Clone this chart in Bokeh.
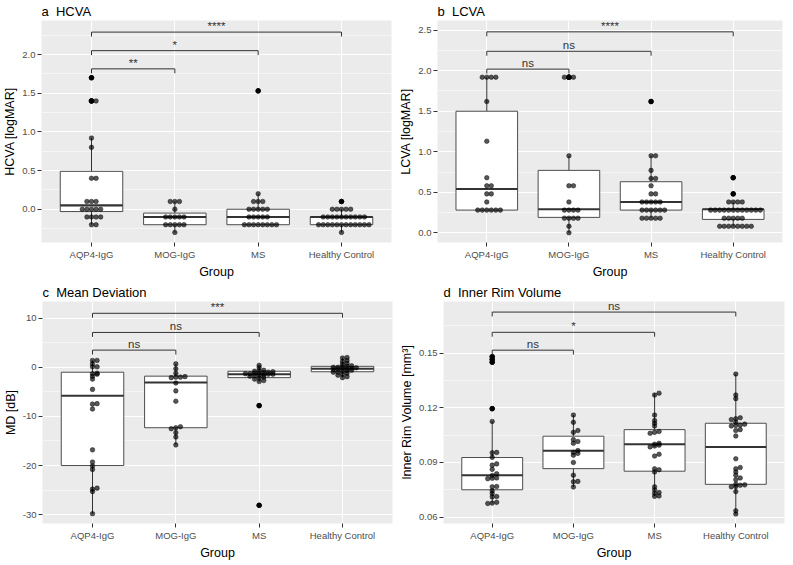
from bokeh.plotting import figure
from bokeh.models import Range1d, FixedTicker, NumeralTickFormatter
from bokeh.layouts import column, row
from bokeh.core.properties import value
from bokeh.embed import file_html
from bokeh.resources import INLINE

FONT = "Liberation Sans"

groups = ["AQP4-IgG", "MOG-IgG", "MS", "Healthy Control"]
group_x = [1, 2, 3, 4]
comparisons = [(1, 2), (1, 3), (1, 4)]

# ---------------- a  HCVA ----------------
hcva_aqp4 = [1.7, 1.4, 1.4, 0.92, 0.8, 0.4, 0.4, 0.1, 0.1, 0.1, 0.0, 0.0, 0.0, 0.0, 0.0,
             -0.1, -0.1, -0.1, -0.1, -0.2, -0.2]
hcva_mog = [0.1, 0.1, 0.1, 0.0, -0.1, -0.1, -0.1, -0.1, -0.1, -0.2, -0.2, -0.2, -0.2, -0.2, -0.3]
hcva_ms = [1.53, 0.2, 0.1, 0.1, 0.1, 0.0, 0.0, 0.0, 0.0, 0.0, -0.1, -0.1, -0.1, -0.1, -0.1,
           -0.2, -0.2, -0.2, -0.2, -0.2, -0.2, -0.2, -0.2]
hcva_hc = [0.1, 0.0, 0.0, 0.0, 0.0, 0.0, -0.1, -0.1, -0.1, -0.1, -0.1, -0.1, -0.1, -0.1, -0.1, -0.1,
           -0.2, -0.2, -0.2, -0.2, -0.2, -0.2, -0.2, -0.2, -0.2, -0.2, -0.2, -0.2, -0.3]
hcva_lower = [-0.2, -0.3, -0.2, -0.3]
hcva_q1 = [-0.03, -0.2, -0.2, -0.2]
hcva_median = [0.05, -0.1, -0.1, -0.1]
hcva_q3 = [0.49, -0.05, 0.0, -0.1]
hcva_upper = [0.92, 0.1, 0.2, 0.0]
hcva_ticks = [0.0, 0.5, 1.0, 1.5, 2.0]
hcva_minor = [-0.25, 0.25, 0.75, 1.25, 1.75, 2.25]
hcva_bracket_y = [1.815, 2.05, 2.29]
hcva_bracket_labels = ["**", "*", "****"]

# ---------------- b  LCVA ----------------
lcva_aqp4 = [1.92, 1.92, 1.92, 1.92, 1.62, 1.13, 0.68, 0.58, 0.58, 0.48, 0.48, 0.38,
             0.28, 0.28, 0.28, 0.28, 0.28, 0.28]
lcva_mog = [1.92, 1.92, 1.92, 0.95, 0.58, 0.58, 0.38, 0.28, 0.28, 0.28, 0.28,
            0.18, 0.18, 0.18, 0.18, 0.08, 0.0]
lcva_ms = [1.62, 0.95, 0.95, 0.77, 0.67, 0.67, 0.58, 0.48, 0.48, 0.38, 0.38, 0.38, 0.38, 0.38,
           0.28, 0.28, 0.28, 0.28, 0.28, 0.28, 0.18, 0.18, 0.18, 0.18, 0.18]
lcva_hc = [0.68, 0.48, 0.38, 0.38, 0.38, 0.38, 0.28, 0.28, 0.28, 0.28, 0.28, 0.28, 0.28, 0.28,
           0.28, 0.28, 0.28, 0.28, 0.18, 0.18, 0.18, 0.18, 0.18,
           0.08, 0.08, 0.08, 0.08, 0.08, 0.08, 0.08, 0.08]
lcva_lower = [0.28, 0.0, 0.18, 0.08]
lcva_q1 = [0.28, 0.19, 0.28, 0.165]
lcva_median = [0.54, 0.29, 0.38, 0.29]
lcva_q3 = [1.5, 0.77, 0.63, 0.29]
lcva_upper = [1.92, 0.95, 0.95, 0.38]
lcva_ticks = [0.0, 0.5, 1.0, 1.5, 2.0, 2.5]
lcva_minor = [0.25, 0.75, 1.25, 1.75, 2.25]
lcva_bracket_y = [2.02, 2.24, 2.48]
lcva_bracket_labels = ["ns", "ns", "****"]

# ---------------- c  Mean Deviation ----------------
md_aqp4 = [1.4, 1.4, 0.7, 0.1, 0.1, -1.2, -1.3, -1.4, -1.8, -2.4, -4.5, -7.4, -7.5, -8.5,
           -16.8, -19.3, -20.1, -20.8, -24.6, -24.8, -25.3, -29.8]
md_mog = [0.7, -0.3, -1.2, -1.9, -2.0, -2.0, -2.1, -3.2, -4.8, -6.9, -12.1, -12.3, -12.5,
          -13.3, -14.2, -15.8]
md_ms = [0.4, -0.1, -0.6, -0.7, -0.8, -0.9, -1.0, -1.1, -1.2, -1.2, -1.3, -1.3, -1.4, -1.4,
         -1.5, -1.6, -1.7, -1.8, -2.0, -2.2, -2.4, -2.7, -2.9, -7.8, -28.1]
md_hc = [2.0, 1.9, 1.4, 1.2, 0.8, 0.6, 0.3, 0.2, 0.1, 0.0, 0.0, -0.1, -0.2, -0.3, -0.3, -0.4,
         -0.5, -0.6, -0.7, -0.8, -1.0, -1.0, -1.2, -1.4, -1.6, -1.9, -2.1]
md_lower = [-29.8, -15.8, -2.9, -2.1]
md_q1 = [-20.0, -12.3, -2.1, -0.9]
md_median = [-5.8, -3.1, -1.4, -0.3]
md_q3 = [-1.0, -1.8, -0.8, 0.2]
md_upper = [1.4, 0.7, 0.4, 2.0]
md_ticks = [-30, -20, -10, 0, 10]
md_minor = [-25, -15, -5, 5]
md_bracket_y = [3.5, 7.1, 11.0]
md_bracket_labels = ["ns", "ns", "***"]

# ---------------- d  Inner Rim Volume ----------------
irv_aqp4 = [0.148, 0.1465, 0.145, 0.1195, 0.1125, 0.0955, 0.0953, 0.0928, 0.0892, 0.0885,
            0.0862, 0.0838, 0.0828, 0.0815, 0.0813, 0.0811, 0.0768, 0.0766, 0.0745, 0.0730,
            0.0713, 0.0711, 0.0681, 0.0677, 0.0675]
irv_mog = [0.116, 0.112, 0.1075, 0.1065, 0.1025, 0.1015, 0.1005, 0.0965, 0.0955, 0.0950,
           0.0940, 0.0900, 0.0830, 0.0796, 0.0794, 0.0765]
irv_ms = [0.128, 0.127, 0.116, 0.113, 0.1115, 0.110, 0.107, 0.1065, 0.106, 0.1005, 0.1000,
          0.0995, 0.0990, 0.0985, 0.0945, 0.0935, 0.0865, 0.0860, 0.0848, 0.0766, 0.0750,
          0.0735, 0.0731, 0.0716, 0.0714]
irv_hc = [0.1385, 0.127, 0.125, 0.1145, 0.114, 0.1135, 0.112, 0.111, 0.1105, 0.1103, 0.110,
          0.108, 0.1075, 0.1045, 0.092, 0.0872, 0.0865, 0.0848, 0.083, 0.0815, 0.0805, 0.078,
          0.0777, 0.0775, 0.0768, 0.0766, 0.0740, 0.0635, 0.0617]
irv_lower = [0.0675, 0.0765, 0.0714, 0.0617]
irv_q1 = [0.0750, 0.0866, 0.0852, 0.0780]
irv_median = [0.0830, 0.0964, 0.1000, 0.0985]
irv_q3 = [0.0927, 0.1044, 0.1080, 0.1115]
irv_upper = [0.1125, 0.116, 0.128, 0.1385]
irv_ticks = [0.06, 0.09, 0.12, 0.15]
irv_minor = [0.075, 0.105, 0.135, 0.165]
irv_bracket_y = [0.1516, 0.1614, 0.1725]
irv_bracket_labels = ["ns", "*", "ns"]


def dot_layout(values, x0, binwidth, step):
    """ggplot2-style dot-density binning, stacked 'centerwhole' sideways."""
    vals = sorted(values)
    bins = []
    binend = float("-inf")
    for v in vals:
        if v >= binend:
            bins.append([])
            binend = v + binwidth
        bins[-1].append(v)
    xs, ys = [], []
    for b in bins:
        n = len(b)
        for a, v in enumerate(b):
            off = a - (n - 1) // 2
            xs.append(x0 + off * step)
            ys.append(v)
    return xs, ys


def make_panel(title, ylabel, yrange, ticks, minor, fmt, series, lower, q1, med, q3, upper,
               bracket_y, bracket_labels, binwidth, fw, fh):
    p = figure(frame_width=fw, frame_height=fh, output_backend="svg", toolbar_location=None,
               x_range=Range1d(0.4, 4.6), y_range=Range1d(*yrange),
               min_border_left=0, min_border_right=5, min_border_top=0,
               min_border_bottom=0)
    p.title.text = title
    p.title.text_font = FONT
    p.title.text_font_size = "13px"
    p.title.text_font_style = "normal"
    p.title.text_color = "black"
    p.title.align = "left"
    p.title.standoff = 3
    p.background_fill_color = "#EBEBEB"
    p.border_fill_color = "white"
    p.outline_line_color = None

    p.xaxis.ticker = FixedTicker(ticks=group_x)
    p.xaxis.major_label_overrides = {gx: g for gx, g in zip(group_x, groups)}
    p.yaxis.ticker = FixedTicker(ticks=ticks, minor_ticks=minor)
    p.yaxis.formatter = NumeralTickFormatter(format=fmt)
    for ax in (p.xaxis, p.yaxis):
        ax.axis_line_color = None
        ax.major_tick_line_color = "#333333"
        ax.major_tick_out = 4
        ax.major_tick_in = 0
        ax.minor_tick_line_color = None
        ax.major_label_text_font = FONT
        ax.major_label_text_font_size = "9.5px"
        ax.major_label_text_color = "#4D4D4D"
        ax.major_label_standoff = 2
        ax.axis_label_text_font = FONT
        ax.axis_label_text_font_size = "12.5px"
        ax.axis_label_text_font_style = "normal"
        ax.axis_label_text_color = "black"
        ax.axis_label_standoff = 2
    p.xaxis.axis_label = "Group"
    p.yaxis.axis_label = ylabel

    p.xgrid.ticker = FixedTicker(ticks=group_x)
    p.xgrid.grid_line_color = "white"
    p.xgrid.grid_line_width = 1.1
    p.ygrid.grid_line_color = "white"
    p.ygrid.grid_line_width = 1.1
    p.ygrid.minor_grid_line_color = "white"
    p.ygrid.minor_grid_line_width = 0.5

    bw = 0.75
    # whiskers
    p.segment(x0=group_x, y0=q3, x1=group_x, y1=upper, line_color="#333333", line_width=1)
    p.segment(x0=group_x, y0=q1, x1=group_x, y1=lower, line_color="#333333", line_width=1)
    # boxes
    p.vbar(x=group_x, width=bw, bottom=q1, top=q3, fill_color="white",
           line_color="#4D4D4D", line_width=1)
    p.segment(x0=[g - bw / 2 for g in group_x], y0=med, x1=[g + bw / 2 for g in group_x],
              y1=med, line_color="#333333", line_width=2.1)

    # outliers (beyond the whiskers) and dots
    ox, oy, dx, dy = [], [], [], []
    for gx, vals, lo, hi in zip(group_x, series, lower, upper):
        for v in vals:
            if v > hi + 1e-9 or v < lo - 1e-9:
                ox.append(gx)
                oy.append(v)
        xs, ys = dot_layout(vals, gx, binwidth, 0.055)
        dx += xs
        dy += ys
    p.scatter(ox, oy, size=4.6, fill_color="black", line_color="black")
    p.scatter(dx, dy, size=4.6, fill_color="black", fill_alpha=0.66,
              line_color="black", line_alpha=0.72, line_width=0.6)

    # significance brackets
    span = yrange[1] - yrange[0]
    tip = 0.02 * span
    bxs, bys, tx = [], [], []
    for (a, b), yb in zip(comparisons, bracket_y):
        bxs.append([a, a, b, b])
        bys.append([yb - tip, yb, yb, yb - tip])
        tx.append((a + b) / 2)
    p.multi_line(bxs, bys, line_color="#333333", line_width=1)
    p.text(x=tx, y=bracket_y, text=bracket_labels, text_align="center",
           text_baseline="bottom", y_offset=0, text_font=value(FONT),
           text_font_size="11.5px", text_color="#333333")
    return p


pa = make_panel("a\u00a0\u00a0HCVA", "HCVA [logMAR]", (-0.43, 2.44), hcva_ticks, hcva_minor, "0.0",
                [hcva_aqp4, hcva_mog, hcva_ms, hcva_hc], hcva_lower, hcva_q1, hcva_median,
                hcva_q3, hcva_upper, hcva_bracket_y, hcva_bracket_labels, 0.05, 350, 222)
pb = make_panel("b\u00a0\u00a0LCVA", "LCVA [logMAR]", (-0.12, 2.62), lcva_ticks, lcva_minor, "0.0",
                [lcva_aqp4, lcva_mog, lcva_ms, lcva_hc], lcva_lower, lcva_q1, lcva_median,
                lcva_q3, lcva_upper, lcva_bracket_y, lcva_bracket_labels, 0.05, 345, 222)
pc = make_panel("c\u00a0\u00a0Mean Deviation", "MD [dB]", (-31.8, 13.4), md_ticks, md_minor, "0",
                [md_aqp4, md_mog, md_ms, md_hc], md_lower, md_q1, md_median,
                md_q3, md_upper, md_bracket_y, md_bracket_labels, 0.45, 350, 222)
pd_ = make_panel("d\u00a0\u00a0Inner Rim Volume", "Inner Rim Volume [mm³]", (0.0565, 0.1783),
                 irv_ticks, irv_minor, "0.00", [irv_aqp4, irv_mog, irv_ms, irv_hc], irv_lower,
                 irv_q1, irv_median, irv_q3, irv_upper, irv_bracket_y, irv_bracket_labels,
                 0.0012, 341, 222)

layout = column(row(pa, pb), row(pc, pd_))
open("out.html", "w").write(file_html(layout, INLINE))
